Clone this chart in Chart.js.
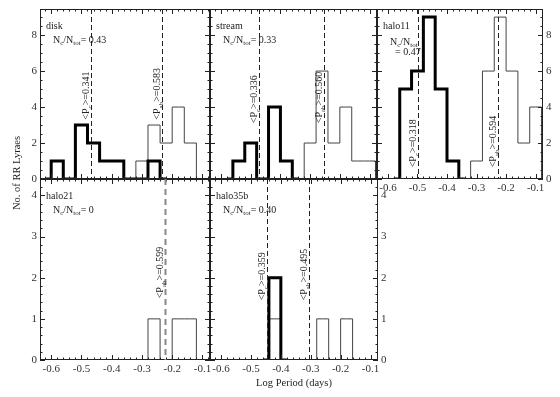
<!DOCTYPE html>
<html>
<head>
<meta charset="utf-8">
<script src="https://cdn.jsdelivr.net/npm/chart.js@4.4.1/dist/chart.umd.min.js"></script>
<style>
  html, body { margin: 0; padding: 0; background: #fff; }
  #wrap { position: relative; width: 560px; height: 397px; }
  #wrap canvas { position: absolute; left: 0; top: 0; }
</style>
</head>
<body>
<div id="wrap">
  <canvas id="p-disk" width="560" height="397"></canvas>
  <canvas id="p-stream" width="560" height="397"></canvas>
  <canvas id="p-halo11" width="560" height="397"></canvas>
  <canvas id="p-halo21" width="560" height="397"></canvas>
  <canvas id="p-halo35b" width="560" height="397"></canvas>
</div>
<script>
/* ── DATA ── */
// bin centres of the log-period histograms (bin width 0.04)
const logP = [-0.62, -0.58, -0.54, -0.50, -0.46, -0.42, -0.38, -0.34, -0.30, -0.26, -0.22, -0.18, -0.14, -0.10, -0.06];

// RRc (thick) and RRab (thin) counts per bin, null = outside the plotted histogram
const diskC     = [0, 1, 0, 3, 2, 1, 1, 0, 0, 1, 0, null, null, null, null];
const diskAB    = [null, null, null, null, null, null, null, 0, 1, 3, 2, 4, 2, 0, null];
const streamC   = [null, 0, 1, 2, 0, 4, 1, 0, null, null, null, null, null, null, null];
const streamAB  = [null, null, null, null, null, null, null, 0, 2, 6, 2, 4, 1, 1, 0];
const halo11C   = [null, 0, 5, 6, 9, 5, 1, 0, null, null, null, null, null, null, null];
const halo11AB  = [null, null, null, null, null, null, null, 0, 1, 6, 9, 6, 2, 4, 0];
const halo21C   = [];
const halo21AB  = [null, null, null, null, null, null, null, null, 0, 1, 0, 1, 1, 0, null];
const halo35bC  = [null, null, null, null, 0, 2, 0, null, null, null, null, null, null, null, null];
const halo35bAB = [null, null, null, null, 0, 1, 0, 0, 0, 1, 0, 1, 0, null, null];

const fieldNames = ['disk', 'stream', 'halo11', 'halo21', 'halo35b'];
const ncRatio    = ['0.43', '0.33', '0.47', '0', '0.40'];
const meanPc     = [0.341, 0.336, 0.318, null, 0.359];
const meanPab    = [0.583, 0.560, 0.594, 0.599, 0.495];

const xTicks       = [-0.6, -0.5, -0.4, -0.3, -0.2, -0.1];
const yTicksTop    = [0, 2, 4, 6, 8];
const yTicksBottom = [0, 1, 2, 3, 4];

/* ── LAYOUT ── */
const W = 560, H = 397;
const X_MIN = -0.637, X_MAX = -0.075;
const YW = 22, XH = 18;
const FONT = '"Liberation Serif", "DejaVu Serif", serif';
const INK = '#222';

const PANELS = [
  { id: 'p-disk',    i: 0, c: diskC,    ab: diskAB,    box: [40, 9, 210, 179],   yMax: 9.45, yTicks: yTicksTop,    yMinor: 0.5, yAxis: 'left',  xLabels: false, labelY: 3.3 },
  { id: 'p-stream',  i: 1, c: streamC,  ab: streamAB,  box: [210, 9, 377, 179],  yMax: 9.45, yTicks: yTicksTop,    yMinor: 0.5, yAxis: null,    xLabels: false, labelY: 3.1 },
  { id: 'p-halo11',  i: 2, c: halo11C,  ab: halo11AB,  box: [377, 9, 543, 179],  yMax: 9.45, yTicks: yTicksTop,    yMinor: 0.5, yAxis: 'right', xLabels: true,  labelY: 0.65, stacked: true },
  { id: 'p-halo21',  i: 3, c: halo21C,  ab: halo21AB,  box: [40, 179, 210, 360], yMax: 4.4,  yTicks: yTicksBottom, yMinor: 0.2, yAxis: 'left',  xLabels: true,  labelY: 1.5, greyDash: true, yTitle: 'No. of RR Lyraes' },
  { id: 'p-halo35b', i: 4, c: halo35bC, ab: halo35bAB, box: [210, 179, 378, 360], yMax: 4.4, yTicks: yTicksBottom, yMinor: 0.2, yAxis: 'right', xLabels: true,  labelY: 1.45, xTitle: 'Log Period (days)' },
];

Chart.defaults.font.family = FONT;

function toPoints(counts) {
  return counts.map((v, k) => ({ x: logP[k], y: v }));
}

// text with subscripts: plain strings, or {sub: '...'}
function drawRuns(ctx, runs, x, y, size) {
  let cx = x;
  runs.forEach(r => {
    const sub = typeof r === 'object';
    const t = sub ? r.sub : r;
    ctx.font = (sub ? size * 0.7 : size) + 'px ' + FONT;
    ctx.fillText(t, cx, y + (sub ? size * 0.3 : 0));
    cx += ctx.measureText(t).width;
  });
}

const panelDeco = {
  id: 'panelDeco',
  afterDatasetsDraw(chart, args, p) {
    const { ctx, chartArea: a, scales: { x, y } } = chart;
    const line = (x0, y0, x1, y1) => { ctx.beginPath(); ctx.moveTo(x0, y0); ctx.lineTo(x1, y1); ctx.stroke(); };
    ctx.save();

    // frame
    ctx.strokeStyle = INK; ctx.lineWidth = 1;
    ctx.strokeRect(a.left + 0.5, a.top + 0.5, a.right - a.left - 1, a.bottom - a.top - 1);

    // inward ticks on all four sides
    for (let k = Math.ceil(X_MIN / 0.02); k * 0.02 <= X_MAX + 1e-9; k++) {
      const v = k * 0.02;
      const len = Math.abs(v * 10 - Math.round(v * 10)) < 1e-6 ? 5 : 2.5;
      const px = Math.round(x.getPixelForValue(v)) + 0.5;
      line(px, a.bottom, px, a.bottom - len);
      line(px, a.top, px, a.top + len);
    }
    const yMajor = p.yTicks[1] - p.yTicks[0];
    for (let k = 0; k * p.yMinor <= y.max + 1e-9; k++) {
      const v = k * p.yMinor;
      const len = Math.abs(v / yMajor - Math.round(v / yMajor)) < 1e-6 ? 5 : 2.5;
      const py = Math.round(y.getPixelForValue(v)) + 0.5;
      line(a.left, py, a.left + len, py);
      line(a.right, py, a.right - len, py);
    }

    // mean period lines with rotated labels
    [[meanPc[p.i], 'c'], [meanPab[p.i], 'ab']].forEach(([P, sub]) => {
      if (P == null) return;
      const lx = Math.round(x.getPixelForValue(Math.log10(P))) + 0.5;
      ctx.save();
      ctx.setLineDash(p.greyDash ? [6, 4] : [5, 3]);
      ctx.strokeStyle = p.greyDash ? '#888' : INK;
      ctx.lineWidth = p.greyDash ? 2 : 1;
      line(lx, a.top, lx, a.bottom);
      ctx.restore();

      ctx.save();
      ctx.fillStyle = INK;
      ctx.textBaseline = 'alphabetic';
      ctx.translate(lx - 2.5, y.getPixelForValue(p.labelY));
      ctx.rotate(-Math.PI / 2);
      drawRuns(ctx, ['<P', { sub }, '>=' + P.toFixed(3)], 0, 0, 10);
      ctx.restore();
    });

    // field name and Nc/Ntot
    ctx.fillStyle = INK;
    ctx.textBaseline = 'middle';
    ctx.textAlign = 'left';
    ctx.font = '10px ' + FONT;
    ctx.fillText(fieldNames[p.i], a.left + 6, a.top + 17);
    const ratio = ['N', { sub: 'c' }, '/N', { sub: 'tot' }];
    if (p.stacked) {
      drawRuns(ctx, ratio, a.left + 13, a.top + 33, 10);
      drawRuns(ctx, ['= ' + ncRatio[p.i]], a.left + 18, a.top + 43, 10);
    } else {
      drawRuns(ctx, ratio.concat(['= ' + ncRatio[p.i]]), a.left + 13, a.top + 31, 10);
    }

    // shared axis titles
    if (p.xTitle) {
      ctx.font = '10.5px ' + FONT;
      ctx.textAlign = 'center';
      ctx.fillText(p.xTitle, (a.left + a.right) / 2, a.bottom + 23);
    }
    if (p.yTitle) {
      ctx.save();
      ctx.font = '10.5px ' + FONT;
      ctx.textAlign = 'center';
      ctx.translate(a.left - 23, a.top - 6);
      ctx.rotate(-Math.PI / 2);
      ctx.fillText(p.yTitle, 0, 0);
      ctx.restore();
    }
    ctx.restore();
  },
};

function makePanel(p) {
  const [L, T, R, B] = p.box;
  const datasets = [];
  if (p.c.length) {
    datasets.push({
      data: toPoints(p.c), borderColor: '#000', borderWidth: 3,
      stepped: 'middle', pointRadius: 0, borderJoinStyle: 'miter', borderCapStyle: 'butt',
    });
  }
  datasets.push({
    data: toPoints(p.ab), borderColor: '#444', borderWidth: 1,
    stepped: 'middle', pointRadius: 0, borderJoinStyle: 'miter', borderCapStyle: 'butt',
  });

  const tickFont = { family: FONT, size: 11 };
  return new Chart(document.getElementById(p.id), {
    type: 'line',
    data: { datasets },
    options: {
      responsive: false, animation: false, events: [],
      layout: {
        autoPadding: false,
        padding: {
          left: L - (p.yAxis === 'left' ? YW : 0),
          right: W - R - (p.yAxis === 'right' ? YW : 0),
          top: T,
          bottom: H - B - (p.xLabels ? XH : 0),
        },
      },
      plugins: { legend: { display: false }, tooltip: { enabled: false }, panelDeco: p },
      scales: {
        x: {
          type: 'linear', position: 'bottom', min: X_MIN, max: X_MAX,
          grid: { display: false, drawTicks: false }, border: { display: false },
          afterBuildTicks: s => { s.ticks = xTicks.map(v => ({ value: v })); },
          ticks: { display: p.xLabels, autoSkip: false, maxRotation: 0, padding: 3, color: '#333', font: tickFont, callback: v => v.toFixed(1) },
          afterFit: s => { s.height = p.xLabels ? XH : 0; s.paddingLeft = 0; s.paddingRight = 0; },
        },
        y: {
          type: 'linear', position: p.yAxis || 'left', min: 0, max: p.yMax,
          grid: { display: false, drawTicks: false }, border: { display: false },
          afterBuildTicks: s => { s.ticks = p.yTicks.map(v => ({ value: v })); },
          ticks: { display: !!p.yAxis, autoSkip: false, padding: 3, color: '#333', font: tickFont },
          afterFit: s => { s.width = p.yAxis ? YW : 0; s.paddingTop = 0; s.paddingBottom = 0; },
        },
      },
    },
    plugins: [panelDeco],
  });
}

PANELS.forEach(makePanel);
</script>
</body>
</html>
